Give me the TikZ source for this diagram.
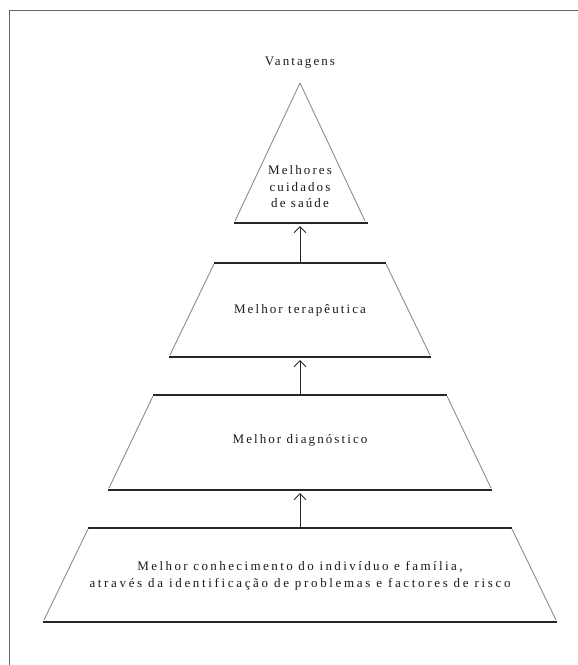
\documentclass[tikz,border=0pt]{standalone}
\usepackage{fontspec}
\setmainfont{Liberation Serif}[LetterSpace=16]
\usetikzlibrary{arrows.meta}
\tikzset{
  flat/.style={draw=black!85, line width=1.2pt},
  slant/.style={draw=black!45, line width=0.9pt},
  frame/.style={draw=black!60, line width=0.9pt},
  lbl/.style={font=\fontsize{13}{17}\selectfont, text=black!90, align=center, inner sep=0pt},
  up/.style={draw=black!85, line width=1pt, -{Straight Barb[length=6pt,width=12pt,line width=1pt]}}
}
\begin{document}
\begin{tikzpicture}[x=1pt,y=-1pt]
\useasboundingbox (0,0) rectangle (578,665);
% frame
\draw[frame] (9,665) -- (9,10) -- (578,10);
% triangle
\draw[slant] (300,83) -- (235,221);
\draw[slant] (300,83) -- (365,221);
\draw[flat] (234,223) -- (368,223);
% trapezium 2
\draw[flat] (214,263) -- (386,263);
\draw[slant] (214,264) -- (170,355);
\draw[slant] (386,264) -- (430,355);
\draw[flat] (169,357) -- (431,357);
% trapezium 3
\draw[flat] (153,395) -- (447,395);
\draw[slant] (153,396) -- (109,488);
\draw[slant] (447,396) -- (491,488);
\draw[flat] (108,490) -- (492,490);
% trapezium 4
\draw[flat] (88,528) -- (512,528);
\draw[slant] (88,529) -- (44,620);
\draw[slant] (512,529) -- (556,620);
\draw[flat] (43,622) -- (557,622);
% named anchors
\coordinate (b1) at (300,226);
\coordinate (t2) at (300,263);
\coordinate (b2) at (300,360);
\coordinate (t3) at (300,395);
\coordinate (b3) at (300,493);
\coordinate (t4) at (300,528);
% texts
\node[lbl] (vant) at (300,63) {Vantagens};
\node[lbl, font=\fontsize{13}{16.5}\selectfont] (n1) at (300,187) {Melhores\\cuidados\\de saúde};
\node[lbl] (n2) at (300,310) {Melhor terapêutica};
\node[lbl] (n3) at (300,440) {Melhor diagnóstico};
\node[lbl] (n4) at (300,576) {{\addfontfeature{LetterSpace=18.5}Melhor conhecimento do indivíduo e família,}\\{\addfontfeature{LetterSpace=20.5}através da identificação de problemas e factores de risco}};
% arrows
\draw[up] (t2) -- (b1);
\draw[up] (t3) -- (b2);
\draw[up] (t4) -- (b3);
\end{tikzpicture}
\end{document}
